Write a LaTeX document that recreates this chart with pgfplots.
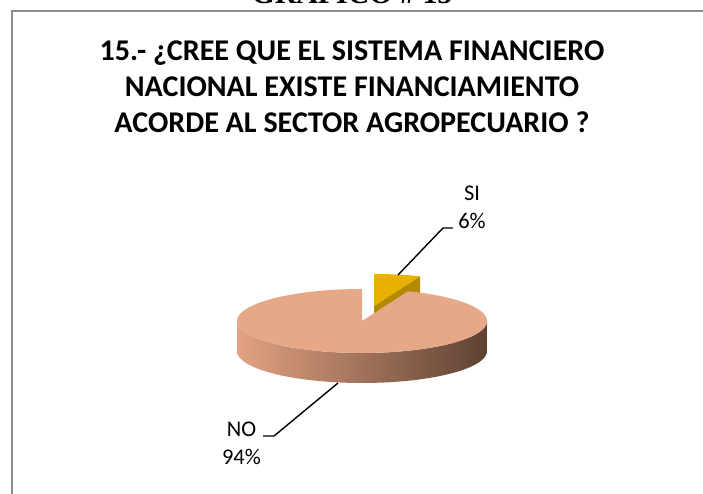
\documentclass[border=0pt]{standalone}
\usepackage{pgfplots}
\pgfplotsset{compat=1.18}
\usepackage{fontspec}
\setmainfont{Carlito}
\newfontfamily\serifb{Liberation Serif}
\definecolor{noTop}{HTML}{E6A886}
\definecolor{noL}{HTML}{E3A283}
\definecolor{noM}{HTML}{B98467}
\definecolor{noR}{HTML}{5E4232}
\definecolor{siTop}{HTML}{E8B000}
\definecolor{siFace}{HTML}{B38900}
\definecolor{frame}{HTML}{8C8C8C}
% data
\def\vNO{94}
\def\vSI{6}
\pgfmathsetmacro\aSI{360*\vSI/(\vNO+\vSI)}
\pgfmathsetmacro\sEnd{90-\aSI}
\pgfmathsetmacro\nEnd{450-\aSI}
% geometry (pixels)
\def\cx{362}\def\cy{173}\def\rx{125}\def\ry{32}\def\hh{30}
\def\ox{12}\def\oy{15}
\pgfmathsetmacro\sx{\cx+\ox}
\pgfmathsetmacro\sy{\cy+\oy}
\pgfmathsetmacro\ex{\sx+\rx*cos(\sEnd)}
\pgfmathsetmacro\ey{\sy+\ry*sin(\sEnd)}
\pgfmathsetmacro\eyb{\ey-\hh}
\pgfmathsetmacro\syb{\sy-\hh}
\begin{document}
\begin{tikzpicture}
\begin{axis}[width=703bp,height=494bp,scale only axis,
  xmin=0,xmax=703,ymin=0,ymax=494,axis lines=none,clip=false]
% frame
\addplot[draw=frame,line width=1.5bp] coordinates {(12,-20) (12,483) (740,483)};
% SI slice (exploded, behind)
\addplot[fill=siFace,draw=none] coordinates {(\sx,\sy) (\ex,\ey) (\ex,\eyb) (\sx,\syb)} -- cycle;
\addplot[fill=siTop,draw=none,domain=\sEnd:90,samples=30]
  ({\sx+\rx*cos(x)},{\sy+\ry*sin(x)}) -- (axis cs:\sx,\sy) -- cycle;
% NO side
\addplot[draw=none,left color=noL,middle color=noM,right color=noR,domain=0:2,samples=201]
  ({\cx+\rx*cos(ifthenelse(x<=1,180+180*x,540-180*x))},
   {\cy+\ry*sin(ifthenelse(x<=1,180+180*x,540-180*x))-ifthenelse(x>1,\hh,0)}) -- cycle;
% NO top
\addplot[fill=noTop,draw=none,domain=90:\nEnd,samples=160]
  ({\cx+\rx*cos(x)},{\cy+\ry*sin(x)}) -- (axis cs:\cx,\cy) -- cycle;
% leaders
\addplot[black,line width=1.4bp] coordinates {(453,266) (443,266) (398,219)};
\addplot[black,line width=1.4bp] coordinates {(263,58) (274,58) (338,111)};
% labels
\node[font=\fontsize{22.5}{27}\selectfont,align=center] at (axis cs:472,286.5) {SI\\[1bp]6\%};
\node[font=\fontsize{22.5}{27}\selectfont,align=center] at (axis cs:241.5,50.5) {NO\\[1bp]94\%};
% title
\node[font=\fontsize{30.2}{36.3}\selectfont\bfseries,align=center] at (axis cs:352,407.5)
  {15.- ¿CREE QUE EL SISTEMA FINANCIERO\\NACIONAL EXISTE FINANCIAMIENTO\\ACORDE AL SECTOR AGROPECUARIO ?};
\node[font=\fontsize{30}{36}\selectfont\serifb\bfseries,anchor=base] at (axis cs:352,490) {GRAFICO \# 15};
\end{axis}
\pgfresetboundingbox
\path[use as bounding box] (0,0) rectangle (703bp,494bp);
\end{tikzpicture}
\end{document}
